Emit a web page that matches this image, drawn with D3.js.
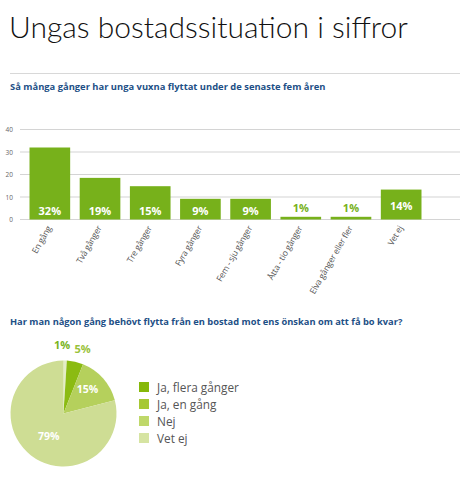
<!DOCTYPE html>
<html>
<head>
<meta charset="utf-8">
<script src="https://cdn.jsdelivr.net/npm/d3@7"></script>
<style>
  body { margin: 0; background: #fff; }
  svg { display: block; font-family: 'Open Sans', sans-serif; }
</style>
</head>
<body>
<div class="chart"></div>
<script>
// stapeldiagram: antal flyttar senaste fem åren
const categories = ['En gång', 'Två gånger', 'Tre gånger', 'Fyra gånger', 'Fem - sju gånger', 'Åtta - tio gånger', 'Elva gånger eller fler', 'Vet ej']
const barValues = [32, 18.5, 14.8, 9.2, 9.2, 1.2, 1.2, 13.3]
const barLabels = ['32%', '19%', '15%', '9%', '9%', '1%', '1%', '14%']
const yTicks = [0, 10, 20, 30, 40]

// cirkeldiagram
const pieCategories = ['Ja, flera gånger', 'Ja, en gång', 'Nej', 'Vet ej']
const pieValues = [1, 5, 15, 79]
const pieLabels = ['1%', '5%', '15%', '79%']
const pieColors = ['#e4edc6', '#8bbb12', '#b5d05c', '#cedd94']
const legendColors = ['#86b80a', '#a6c833', '#bfd86a', '#d6e4a2']

const W = 460, H = 485
const green = '#77b11b'
const blue = '#1d4f86'

const svg = d3.select('.chart')
  .append('svg')
    .attr('width', W)
    .attr('height', H)

// rubrik
svg.append('text')
  .attr('x', 9)
  .attr('y', 38)
  .style('font-family', 'Lato, sans-serif')
  .style('font-weight', 300)
  .style('font-size', '30px')
  .style('fill', '#111')
  .text('Ungas bostadssituation i siffror')

svg.append('line')
  .attr('x1', 10).attr('x2', W)
  .attr('y1', 73.5).attr('y2', 73.5)
  .style('stroke', '#d8d8d8')

svg.append('text')
  .attr('x', 10)
  .attr('y', 89.5)
  .style('font-weight', 700)
  .style('font-size', '9.4px')
  .style('fill', blue)
  .text('Så många gånger har unga vuxna flyttat under de senaste fem åren')

// --- staplar
const x = d3.scaleBand()
  .domain(categories)
  .range([27, 424])
  .paddingInner(0.19)
  .paddingOuter(0.05)

const y = d3.scaleLinear()
  .domain([0, 40])
  .range([219.5, 129.5])

const grid = svg.append('g')
grid.selectAll('line')
  .data(yTicks)
  .enter()
  .append('line')
    .attr('x1', 20).attr('x2', W)
    .attr('y1', d => y(d)).attr('y2', d => y(d))
    .style('stroke', '#d4d4d4')
    .style('stroke-width', 1.2)

grid.selectAll('text')
  .data(yTicks)
  .enter()
  .append('text')
    .attr('x', 13)
    .attr('y', d => y(d) + 2.5)
    .style('text-anchor', 'end')
    .style('font-size', '6.5px')
    .style('fill', '#666')
    .text(d => d)

const bars = svg.selectAll('.bar')
  .data(categories)
  .enter()
  .append('g')
  .attr('class', 'bar')

bars.append('rect')
  .attr('x', d => x(d))
  .attr('width', x.bandwidth())
  .attr('y', (d, i) => y(barValues[i]))
  .attr('height', (d, i) => y(0) - y(barValues[i]))
  .style('fill', green)

bars.append('text')
  .attr('x', d => x(d) + x.bandwidth() / 2)
  .attr('y', (d, i) => barValues[i] < 5 ? y(barValues[i]) - 5 : (i === 7 ? 210 : 215))
  .style('text-anchor', 'middle')
  .style('font-weight', 700)
  .style('font-size', '11px')
  .style('fill', (d, i) => barValues[i] < 5 ? green : '#fff')
  .text((d, i) => barLabels[i])

bars.append('text')
  .attr('transform', d => `translate(${x(d) + x.bandwidth() / 2 + 2}, 228) rotate(-60)`)
  .style('text-anchor', 'end')
  .style('font-size', '8.6px')
  .style('letter-spacing', '-0.2px')
  .style('fill', '#555')
  .text(d => d)

// --- cirkeldiagram
svg.append('text')
  .attr('x', 10)
  .attr('y', 325)
  .style('font-weight', 700)
  .style('font-size', '9.3px')
  .style('fill', blue)
  .text('Har man någon gång behövt flytta från en bostad mot ens önskan om att få bo kvar?')

const cx = 63.5, cy = 413.5, r = 53
const pie = d3.pie().sort(null)(pieValues)
const arc = d3.arc().innerRadius(0).outerRadius(r)

const pg = svg.append('g')
  .attr('transform', `translate(${cx}, ${cy})`)

pg.selectAll('path')
  .data(pie)
  .enter()
  .append('path')
    .attr('d', arc)
    .style('fill', (d, i) => pieColors[i])

const outer = [[-1.5, -65], [19, -61]]
const inner = d3.arc().innerRadius(r * 0.55).outerRadius(r * 0.55)
pg.selectAll('.plab')
  .data(pie)
  .enter()
  .append('text')
    .attr('class', 'plab')
    .attr('transform', (d, i) => {
      if (i < 2) return `translate(${outer[i]})`
      const c = inner.centroid(d)
      return i === 2 ? `translate(${c[0] + 2}, ${c[1] - 1})` : `translate(${c[0] + 3}, ${c[1] + 3})`
    })
    .style('text-anchor', 'middle')
    .style('font-weight', 700)
    .style('font-size', (d, i) => i < 2 ? '11px' : '10.5px')
    .style('fill', (d, i) => i === 0 ? '#7ab51e' : (i === 1 ? '#99c23a' : '#fff'))
    .text((d, i) => pieLabels[i])

const legend = svg.append('g')
  .attr('transform', 'translate(139, 382)')

const rows = legend.selectAll('g')
  .data(pieCategories)
  .enter()
  .append('g')
  .attr('transform', (d, i) => `translate(0, ${i * 17})`)

rows.append('rect')
  .attr('width', 10)
  .attr('height', 10)
  .style('fill', (d, i) => legendColors[i])

rows.append('text')
  .attr('x', 18)
  .attr('y', 9.5)
  .style('font-size', '11.8px')
  .style('fill', '#555')
  .text(d => d)
</script>
</body>
</html>
